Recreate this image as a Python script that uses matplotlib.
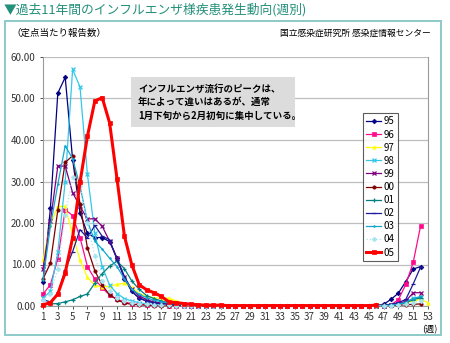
import matplotlib
matplotlib.use("Agg")
import matplotlib.pyplot as plt
from matplotlib.patches import Rectangle

plt.rcParams["font.family"] = ["Noto Sans CJK JP", "DejaVu Sans"]

W, H = 450, 343

# weekly reports per sentinel site, one list per year (week 1 onward)
y95 = [5.9, 23.5, 51.3, 55.1, 35.3, 22.4, 17.5, 16.5, 16.5, 15.5,
       11.5, 6.5, 3.5, 2.0, 1.2, 0.8, 0.5, 0.4, 0.3, 0.2,
       0.1, 0.1, 0.1, 0.1, 0.1, 0.1, 0.1, 0.1, 0.1, 0.1,
       0.1, 0.1, 0.1, 0.1, 0.1, 0.1, 0.1, 0.1, 0.1, 0.1,
       0.1, 0.1, 0.1, 0.1, 0.1, 0.2, 0.4, 1.6, 3.1, 5.9,
       8.9, 9.5]
y96 = [2.9, 5.1, 11.4, 23.2, 21.8, 16.5, 9.5, 6.5, 4.3, 2.7,
       1.6, 1.0, 0.6, 0.4, 0.3, 0.2, 0.2, 0.1, 0.1, 0.1,
       0.0, 0.0, 0.0, 0.0, 0.0, 0.0, 0.0, 0.0, 0.0, 0.0,
       0.0, 0.0, 0.0, 0.0, 0.0, 0.0, 0.0, 0.0, 0.0, 0.0,
       0.0, 0.0, 0.0, 0.0, 0.0, 0.1, 0.1, 0.3, 1.5, 5.2,
       10.5, 19.3]
y97 = [11.1, 19.6, 24.0, 24.0, 17.2, 11.1, 6.9, 5.0, 4.6, 4.8,
       5.2, 5.5, 4.5, 3.0, 2.3, 2.0, 1.8, 1.9, 1.2, 0.6,
       0.3, 0.2, 0.1, 0.1, 0.1, 0.1, 0.1, 0.1, 0.1, 0.1,
       0.1, 0.1, 0.1, 0.1, 0.1, 0.1, 0.1, 0.1, 0.1, 0.1,
       0.1, 0.1, 0.1, 0.1, 0.1, 0.1, 0.2, 0.3, 0.5, 0.8,
       1.2, 1.6, 0.8]
y98 = [2.0, 3.5, 13.0, 30.0, 57.0, 52.8, 31.7, 17.5, 9.5, 5.0,
       3.0, 1.8, 1.2, 0.8, 0.5, 0.4, 0.3, 0.2, 0.2, 0.1,
       0.1, 0.1, 0.0, 0.0, 0.0, 0.0, 0.0, 0.0, 0.0, 0.0,
       0.0, 0.0, 0.0, 0.0, 0.0, 0.0, 0.0, 0.0, 0.0, 0.0,
       0.0, 0.0, 0.0, 0.0, 0.0, 0.1, 0.1, 0.2, 0.4, 0.9,
       1.9, 2.1]
y99 = [9.0, 20.4, 33.7, 33.7, 27.3, 24.0, 21.0, 21.0, 19.2, 15.6,
       11.5, 7.0, 4.0, 2.5, 1.5, 1.0, 0.7, 0.5, 0.3, 0.2,
       0.1, 0.1, 0.1, 0.0, 0.0, 0.0, 0.0, 0.0, 0.0, 0.0,
       0.0, 0.0, 0.0, 0.0, 0.0, 0.0, 0.0, 0.0, 0.0, 0.0,
       0.0, 0.0, 0.0, 0.0, 0.0, 0.1, 0.1, 0.2, 0.5, 1.2,
       3.2, 3.2]
y00 = [6.5, 10.3, 23.1, 34.6, 36.2, 24.6, 14.0, 8.5, 5.0, 2.7,
       1.5, 0.7, 0.4, 0.3, 0.2, 0.1, 0.1, 0.1, 0.1, 0.1,
       0.0, 0.0, 0.0, 0.0, 0.0, 0.0, 0.0, 0.0, 0.0, 0.0,
       0.0, 0.0, 0.0, 0.0, 0.0, 0.0, 0.0, 0.0, 0.0, 0.0,
       0.0, 0.0, 0.0, 0.0, 0.0, 0.0, 0.1, 0.1, 0.2, 0.3,
       0.4, 0.5]
y01 = [0.3, 0.5, 0.6, 1.0, 1.5, 2.3, 2.9, 5.5, 7.8, 9.6,
       10.8, 9.0, 6.0, 4.0, 2.5, 1.8, 1.2, 0.8, 0.5, 0.3,
       0.2, 0.1, 0.1, 0.0, 0.0, 0.0, 0.0, 0.0, 0.0, 0.0,
       0.0, 0.0, 0.0, 0.0, 0.0, 0.0, 0.0, 0.0, 0.0, 0.0,
       0.0, 0.0, 0.0, 0.0, 0.0, 0.0, 0.1, 0.2, 0.4, 0.8,
       1.5, 2.0]
y02 = [1.5, 1.0, 3.0, 8.7, 13.1, 18.4, 16.4, 19.4, 16.8, 16.0,
       11.1, 7.1, 3.5, 1.8, 1.2, 0.8, 0.5, 0.4, 0.3, 0.2,
       0.1, 0.1, 0.1, 0.0, 0.0, 0.0, 0.0, 0.0, 0.0, 0.0,
       0.0, 0.0, 0.0, 0.0, 0.0, 0.0, 0.0, 0.0, 0.0, 0.0,
       0.0, 0.0, 0.0, 0.0, 0.1, 0.1, 0.2, 0.4, 0.8, 1.6,
       5.3, 9.4]
y03 = [6.3, 19.2, 29.3, 38.6, 35.5, 28.9, 20.4, 15.6, 13.7, 11.5,
       9.5, 6.5, 4.0, 2.8, 2.0, 1.4, 1.0, 0.7, 0.5, 0.3,
       0.2, 0.1, 0.1, 0.0, 0.0, 0.0, 0.0, 0.0, 0.0, 0.0,
       0.0, 0.0, 0.0, 0.0, 0.0, 0.0, 0.0, 0.0, 0.0, 0.0,
       0.0, 0.0, 0.0, 0.0, 0.0, 0.1, 0.1, 0.2, 0.4, 0.9,
       1.8, 2.3]
y04 = [1.5, 3.0, 9.0, 22.0, 31.0, 29.0, 20.0, 12.0, 6.0, 3.5,
       2.0, 1.3, 0.8, 0.5, 0.4, 0.3, 0.2, 0.2, 0.1, 0.1,
       0.0, 0.0, 0.0, 0.0, 0.0, 0.0, 0.0, 0.0, 0.0, 0.0,
       0.0, 0.0, 0.0, 0.0, 0.0, 0.0, 0.0, 0.0, 0.0, 0.0,
       0.0, 0.0, 0.0, 0.0, 0.0, 0.0, 0.1, 0.1, 0.2, 0.4,
       0.8, 1.2]
y05 = [0.3, 0.8, 2.9, 8.0, 16.5, 29.8, 40.9, 49.4, 50.2, 44.1,
       30.6, 16.8, 9.9, 5.1, 3.9, 3.2, 2.3, 1.0, 0.8, 0.6,
       0.4, 0.3, 0.2, 0.2, 0.2, 0.1, 0.1, 0.1, 0.1, 0.1,
       0.1, 0.1, 0.1, 0.1, 0.1, 0.1, 0.1, 0.1, 0.1, 0.1,
       0.1, 0.1, 0.1, 0.1, 0.1, 0.2]

LABELS = ["95", "96", "97", "98", "99", "00", "01", "02", "03", "04", "05"]
SERIES = [y95, y96, y97, y98, y99, y00, y01, y02, y03, y04, y05]
COLORS = ["#000080", "#FF0A8C", "#FFFF00", "#33C8E8", "#800080", "#800000",
          "#008080", "#1A1A9A", "#10A8D0", "#A8E4F0", "#FF0000"]
MARKERS = ["D", "s", "^", "x", "x", "o", "+", "_", ".", "D", "s"]


def px(x, y):
    """pixel position (top-left origin) -> figure fraction"""
    return x / W, 1 - y / H


fig = plt.figure(figsize=(W / 100, H / 100), dpi=100)
fig.patch.set_facecolor("white")

# outer teal frame
fig.patches.append(Rectangle(px(5, 335), 436 / W, 314 / H, transform=fig.transFigure,
                             fill=False, edgecolor="#8CCACA", lw=1.4))

fig.text(*px(4, 10), "▼過去11年間のインフルエンザ様疾患発生動向(週別)",
         color="#23907A", fontsize=9.2, ha="left", va="center")
fig.text(*px(11, 33), "（定点当たり報告数）", fontsize=6.8, ha="left", va="center")
fig.text(*px(431, 33), "国立感染症研究所 感染症情報センター", fontsize=6.3,
         ha="right", va="center")

ax = fig.add_axes([43 / W, 1 - 306 / H, 385 / W, 249 / H])
for i, (lab, vals) in enumerate(zip(LABELS, SERIES)):
    weeks = list(range(1, len(vals) + 1))
    is05 = lab == "05"
    ax.plot(weeks, vals, color=COLORS[i], marker=MARKERS[i],
            lw=2.2 if is05 else 0.9,
            ls=":" if lab == "04" else "-",
            ms=3.2 if is05 else (3.4 if MARKERS[i] in "x+_" else 2.4),
            mew=0.9 if MARKERS[i] in "x+_" else 0.5,
            label=lab, clip_on=False, zorder=10 if is05 else 3 + i * 0.1)

ax.set_xlim(1, 53)
ax.set_ylim(0, 60)
ax.set_yticks(range(0, 61, 10))
ax.set_yticklabels([f"{v:.2f}" for v in range(0, 61, 10)])
ax.set_xticks(range(1, 54, 2))
ax.tick_params(axis="both", labelsize=7, colors="#333333", length=2, width=0.6)
ax.tick_params(axis="x", pad=2.5)
ax.grid(axis="y", color="#BEBEBE", lw=0.9)
ax.set_axisbelow(True)
for side in ["left", "bottom", "right"]:
    ax.spines[side].set_color("#9A9A9A")
    ax.spines[side].set_linewidth(0.8)
ax.spines["top"].set_visible(False)

fig.text(*px(430, 329.5), "(週)", fontsize=6.6, ha="center", va="center")

# note box
fig.patches.append(Rectangle(px(131, 127), 164 / W, 50 / H, transform=fig.transFigure,
                             facecolor="#DCDCDC", edgecolor="none", zorder=20))
fig.text(*px(138, 102),
         "インフルエンザ流行のピークは、\n年によって違いはあるが、通常\n1月下旬から2月初旬に集中している。",
         fontsize=6.8, fontweight="bold", ha="left", va="center", linespacing=1.45,
         zorder=21)

leg = ax.legend(loc="upper left", bbox_to_anchor=px(363, 113),
                bbox_transform=fig.transFigure, fontsize=7, frameon=True,
                fancybox=False, borderpad=0.35, labelspacing=0.32,
                handlelength=1.5, handletextpad=0.25, borderaxespad=0)
leg.get_frame().set_edgecolor("#333333")
leg.get_frame().set_linewidth(0.8)
leg.set_zorder(30)

fig.savefig("out.png", dpi=100)
